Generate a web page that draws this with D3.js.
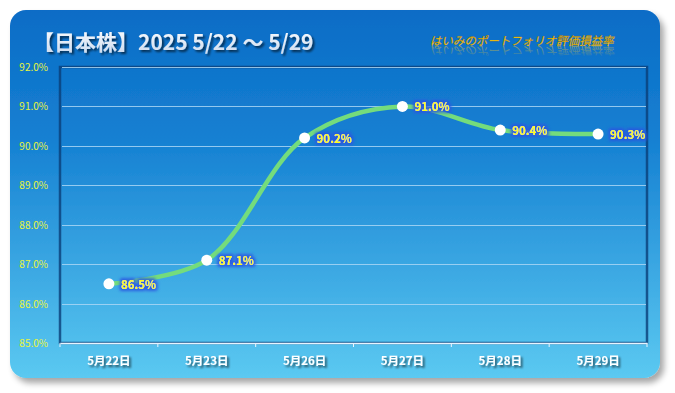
<!DOCTYPE html>
<html>
<head>
<meta charset="utf-8">
<script src="https://cdn.jsdelivr.net/npm/d3@7"></script>
<style>
  body { margin: 0; background: #fff; }
  text { font-family: "Noto Sans CJK JP", "Noto Sans", sans-serif; }
</style>
</head>
<body>
<script>
"use strict";

var categories = ["5月22日", "5月23日", "5月26日", "5月27日", "5月28日", "5月29日"];
var values = [86.5, 87.1, 90.2, 91.0, 90.4, 90.3];
var yTicks = [85, 86, 87, 88, 89, 90, 91, 92];
var titleText = "【日本株】2025 5/22 〜 5/29";
var subtitleText = "はいみのポートフォリオ評価損益率";

var width = 675, height = 393;
var plot = { left: 60, right: 647, top: 67, bottom: 343 };

var svg = d3.select("body").append("svg")
  .attr("width", width)
  .attr("height", height);

var defs = svg.append("defs");

var bg = defs.append("linearGradient").attr("id", "bg")
  .attr("x1", 0).attr("y1", 0).attr("x2", 0).attr("y2", 1);
bg.append("stop").attr("offset", "0%").attr("stop-color", "#0b6cc6");
bg.append("stop").attr("offset", "35%").attr("stop-color", "#1580d2");
bg.append("stop").attr("offset", "100%").attr("stop-color", "#5bc9f1");

var shadow = defs.append("filter").attr("id", "cardShadow")
  .attr("x", "-5%").attr("y", "-5%").attr("width", "115%").attr("height", "115%");
shadow.append("feGaussianBlur").attr("in", "SourceAlpha").attr("stdDeviation", 3);
shadow.append("feOffset").attr("dx", 4).attr("dy", 5).attr("result", "off");
shadow.append("feComponentTransfer").append("feFuncA").attr("type", "linear").attr("slope", 0.35);
var sm = shadow.append("feMerge");
sm.append("feMergeNode");
sm.append("feMergeNode").attr("in", "SourceGraphic");

var txtShadow = defs.append("filter").attr("id", "txtShadow")
  .attr("x", "-10%").attr("y", "-30%").attr("width", "120%").attr("height", "160%");
txtShadow.append("feGaussianBlur").attr("in", "SourceAlpha").attr("stdDeviation", 1.2);
txtShadow.append("feOffset").attr("dx", 1.5).attr("dy", 1.5).attr("result", "o");
txtShadow.append("feComponentTransfer").append("feFuncA").attr("type", "linear").attr("slope", 0.6);
var tm = txtShadow.append("feMerge");
tm.append("feMergeNode");
tm.append("feMergeNode").attr("in", "SourceGraphic");

var glow = defs.append("filter").attr("id", "glow")
  .attr("x", "-20%").attr("y", "-40%").attr("width", "140%").attr("height", "180%");
glow.append("feMorphology").attr("in", "SourceAlpha").attr("operator", "dilate").attr("radius", 2).attr("result", "d");
glow.append("feGaussianBlur").attr("in", "d").attr("stdDeviation", 1.5).attr("result", "b");
glow.append("feFlood").attr("flood-color", "#2a55e0").attr("flood-opacity", 0.9);
glow.append("feComposite").attr("in2", "b").attr("operator", "in");
var gm = glow.append("feMerge");
gm.append("feMergeNode");
gm.append("feMergeNode").attr("in", "SourceGraphic");

var titleGrad = defs.append("linearGradient").attr("id", "titleGrad")
  .attr("x1", 0).attr("y1", 0).attr("x2", 0).attr("y2", 1);
titleGrad.append("stop").attr("offset", "0%").attr("stop-color", "#ffffff");
titleGrad.append("stop").attr("offset", "100%").attr("stop-color", "#c9d9ee");

var reflGrad = defs.append("linearGradient").attr("id", "reflGrad")
  .attr("x1", 0).attr("y1", 1).attr("x2", 0).attr("y2", 0);
reflGrad.append("stop").attr("offset", "0%").attr("stop-color", "#ffcc22").attr("stop-opacity", 0.6);
reflGrad.append("stop").attr("offset", "100%").attr("stop-color", "#ffcc22").attr("stop-opacity", 0);

// card
svg.append("rect")
  .attr("x", 10).attr("y", 10)
  .attr("width", 650).attr("height", 368)
  .attr("rx", 16)
  .attr("fill", "url(#bg)")
  .attr("filter", "url(#cardShadow)");

// titles
svg.append("text")
  .attr("x", 33).attr("y", 50)
  .attr("font-size", 21).attr("font-weight", "bold")
  .attr("fill", "url(#titleGrad)")
  .attr("filter", "url(#txtShadow)")
  .text(titleText);

// subtitle + its reflection (mirrored about the baseline)
var sub = svg.append("g");
sub.append("text")
  .attr("x", 430).attr("y", 45)
  .attr("font-size", 11.5)
  .attr("fill", "#ffd21a").attr("stroke", "#b07a00").attr("stroke-width", 0.3)
  .attr("transform", "skewX(-12)")
  .attr("transform-origin", "430 45")
  .text(subtitleText);

sub.append("g")
  .attr("transform", "translate(0,91) scale(1,-1)")
  .append("text")
  .attr("x", 430).attr("y", 45)
  .attr("font-size", 11.5)
  .attr("fill", "url(#reflGrad)")
  .attr("transform", "skewX(-12)")
  .attr("transform-origin", "430 45")
  .text(subtitleText);

var x = d3.scaleBand().domain(categories).range([plot.left, plot.right]);
var y = d3.scaleLinear().domain([85, 92]).range([plot.bottom, plot.top]);

var g = svg.append("g");

// plot frame (dark inner edge)
g.append("rect")
  .attr("x", plot.left).attr("y", plot.top)
  .attr("width", plot.right - plot.left).attr("height", plot.bottom - plot.top)
  .attr("fill", "none").attr("stroke", "#0a3f78").attr("stroke-width", 2.5)
  .attr("stroke-opacity", 0.8);

// gridlines
g.selectAll(".grid").data(yTicks.slice(1)).enter().append("line")
  .attr("class", "grid")
  .attr("x1", plot.left + 2).attr("x2", plot.right - 1)
  .attr("y1", function (d) { return Math.round(y(d)) + 0.5; })
  .attr("y2", function (d) { return Math.round(y(d)) + 0.5; })
  .attr("stroke", "#a9d6f4").attr("stroke-width", 1).attr("stroke-opacity", 0.85);

// y labels
g.selectAll(".ylab").data(yTicks).enter().append("text")
  .attr("class", "ylab")
  .attr("x", 48)
  .attr("y", function (d) { return y(d) + 4; })
  .attr("text-anchor", "end")
  .attr("font-size", 10)
  .attr("fill", "#e8f53a")
  .text(function (d) { return d.toFixed(1) + "%"; });

// x axis
var xAxis = d3.axisBottom(x).tickSize(0).tickFormat("");
var ax = g.append("g").attr("transform", "translate(0," + plot.bottom + ")").call(xAxis);
ax.select(".domain").attr("stroke", "#e8f4ff").attr("stroke-width", 1.5);
var bounds = x.domain().map(function (d) { return x(d); }).concat([plot.right]);
ax.selectAll(".btick").data(bounds).enter().append("line")
  .attr("class", "btick")
  .attr("x1", function (d) { return d; }).attr("x2", function (d) { return d; })
  .attr("y1", 0).attr("y2", 4)
  .attr("stroke", "#e8f4ff").attr("stroke-width", 1);

g.selectAll(".xlab").data(categories).enter().append("text")
  .attr("class", "xlab")
  .attr("x", function (d) { return x(d) + x.bandwidth() / 2; })
  .attr("y", 365)
  .attr("text-anchor", "middle")
  .attr("font-size", 11.5).attr("font-weight", "bold")
  .attr("fill", "#ffffff")
  .attr("filter", "url(#txtShadow)")
  .text(function (d) { return d; });

// line
var line = d3.line()
  .x(function (d, i) { return x(categories[i]) + x.bandwidth() / 2; })
  .y(function (d) { return y(d); })
  .curve(d3.curveCatmullRom.alpha(0.5));

g.append("path")
  .datum(values)
  .attr("d", line)
  .attr("fill", "none")
  .attr("stroke", "#74dc7c")
  .attr("stroke-width", 4.5)
  .attr("stroke-linecap", "round");

g.selectAll(".pt").data(values).enter().append("circle")
  .attr("class", "pt")
  .attr("cx", function (d, i) { return x(categories[i]) + x.bandwidth() / 2; })
  .attr("cy", function (d) { return y(d); })
  .attr("r", 5.5)
  .attr("fill", "#ffffff");

g.selectAll(".vlab").data(values).enter().append("text")
  .attr("class", "vlab")
  .attr("x", function (d, i) { return x(categories[i]) + x.bandwidth() / 2 + 12; })
  .attr("y", function (d) { return y(d) + 5; })
  .attr("font-size", 11.5).attr("font-weight", "bold")
  .attr("fill", "#ffff1e")
  .attr("filter", "url(#glow)")
  .text(function (d) { return d.toFixed(1) + "%"; });
</script>
</body>
</html>
